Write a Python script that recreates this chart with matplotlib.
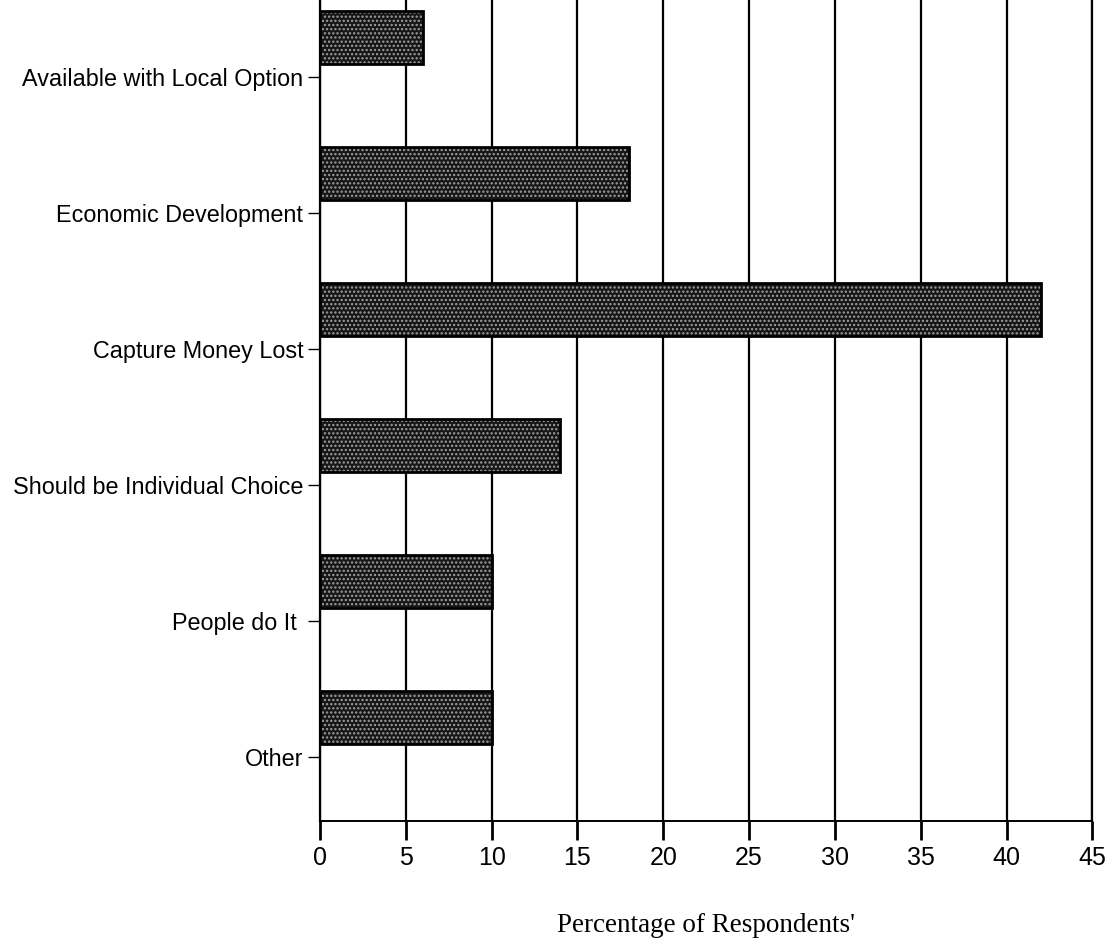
import numpy as np
import matplotlib.pyplot as plt

# Survey answers, listed top to bottom as in the chart
categories = [
    "Available with Local Option",
    "Economic Development",
    "Capture Money Lost",
    "Should be Individual Choice",
    "People do It ",
    "Other",
]
percentages = [6, 18, 42, 14, 10, 10]
x_ticks = [0, 5, 10, 15, 20, 25, 30, 35, 40, 45]

plt.rcParams["hatch.linewidth"] = 1.1

fig = plt.figure(figsize=(11.16, 9.46), dpi=100)
ax = fig.add_axes([0.2867, 0.1321, 0.6921, 0.8679])

# category positions, bottom category at 0
pos = np.arange(len(categories))[::-1]

# bars sit in the upper half of each category band
bar_h = 0.39
offset = 0.29
ax.barh(pos + offset, percentages, height=bar_h, color="#161616",
        edgecolor="#a0a0a0", hatch="....", linewidth=0, zorder=3)
ax.barh(pos + offset, percentages, height=bar_h, color="none",
        edgecolor="black", linewidth=2.0, zorder=4)

ax.set_xlim(0, 45)
ax.set_ylim(-0.47, len(categories) - 1 + 0.566)

ax.set_xticks(x_ticks)
ax.set_xticklabels([str(t) for t in x_ticks], fontsize=18, family="Liberation Sans")
ax.set_yticks(pos)
ax.set_yticklabels(categories, fontsize=16.8, family="Liberation Sans")

ax.tick_params(axis="x", direction="out", length=14, width=2, pad=4)
ax.tick_params(axis="y", direction="out", length=9, width=1, pad=3)

ax.grid(axis="x", color="black", linewidth=1.6, zorder=1)
ax.set_axisbelow(True)

ax.spines["top"].set_visible(False)
ax.spines["right"].set_linewidth(1.6)
ax.spines["left"].set_linewidth(1.6)
ax.spines["bottom"].set_linewidth(1.4)

ax.set_xlabel("Percentage of Respondents'", fontsize=19.5,
              family="Liberation Serif", labelpad=31)

fig.savefig("out.png", dpi=100)
